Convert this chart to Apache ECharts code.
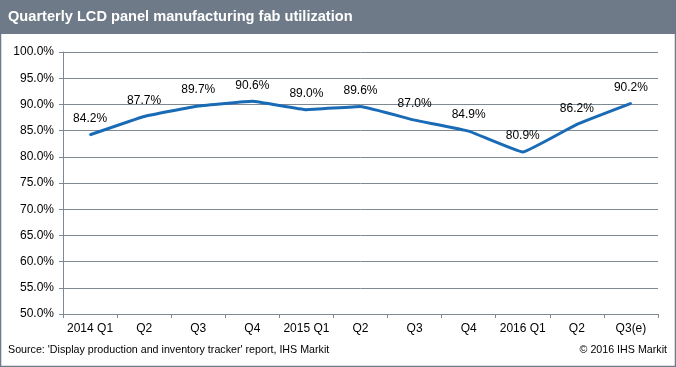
<!DOCTYPE html>
<html><head><meta charset="utf-8">
<script src="https://cdn.jsdelivr.net/npm/echarts@6/dist/echarts.min.js"></script>
<style>html,body{margin:0;padding:0;background:#fff}#c{width:676px;height:367px}</style>
</head><body><div id="c"></div>
<script>
const categories = ['2014 Q1','Q2','Q3','Q4','2015 Q1','Q2','Q3','Q4','2016 Q1','Q2','Q3(e)'];
const utilization = [84.2, 87.7, 89.7, 90.6, 89.0, 89.6, 87.0, 84.9, 80.9, 86.2, 90.2];
const titleText = 'Quarterly LCD panel manufacturing fab utilization';
const sourceText = "Source: 'Display production and inventory tracker' report, IHS Markit";
const copyrightText = '\u00a9 2016 IHS Markit';

const chart = echarts.init(document.getElementById('c'), null, {renderer:'canvas'});
const FONT = '"Liberation Sans", Arial, sans-serif';
const GRID = '#7f8994';
chart.setOption({
  animation: false,
  backgroundColor: '#fff',
  graphic: [
    {type:'rect', shape:{x:0,y:0,width:676,height:34}, style:{fill:'#6e7a88'}, z:-1},
    {type:'rect', shape:{x:0.5,y:0.5,width:675,height:366}, style:{fill:'none', stroke:'#6e7a88', lineWidth:1.5}, z:10},
    {type:'text', left:8, top:9, style:{text:titleText, fill:'#fff', font:'bold 14.6px ' + FONT}},
    {type:'text', left:8, top:345, style:{text:sourceText, fill:'#000', font:'10.7px ' + FONT}},
    {type:'text', right:9, top:345, style:{text:copyrightText, fill:'#000', font:'10.7px ' + FONT}}
  ],
  grid: {left:63, right:18, top:52, bottom:53, containLabel:false},
  xAxis: {
    type:'category', data: categories, boundaryGap:true,
    axisLine:{lineStyle:{color:GRID, width:1}},
    axisTick:{show:true, alignWithLabel:false, length:4, lineStyle:{color:GRID}},
    axisLabel:{color:'#000', fontSize:12, fontFamily:FONT, margin:9, interval:0}
  },
  yAxis: {
    type:'value', min:50, max:100, interval:5,
    axisLine:{show:true, lineStyle:{color:GRID}},
    axisTick:{show:true, length:4, inside:false, lineStyle:{color:GRID}},
    splitLine:{lineStyle:{color:GRID, width:1}},
    axisLabel:{color:'#000', fontSize:12, fontFamily:FONT, margin:9, formatter: v => v.toFixed(1) + '%'}
  },
  series: [{
    type:'line', data: utilization, smooth:0.08,
    symbol:'circle', symbolSize:2, showSymbol:true,
    itemStyle:{color:'#1a6bb6'},
    lineStyle:{color:'#1a6bb6', width:3},
    labelLayout:{hideOverlap:false},
    label:{show:true, position:'top', distance:9, color:'#000', fontSize:12, fontFamily:FONT,
      formatter: p => Number(p.value).toFixed(1) + '%'}
  }]
});
</script></body></html>
